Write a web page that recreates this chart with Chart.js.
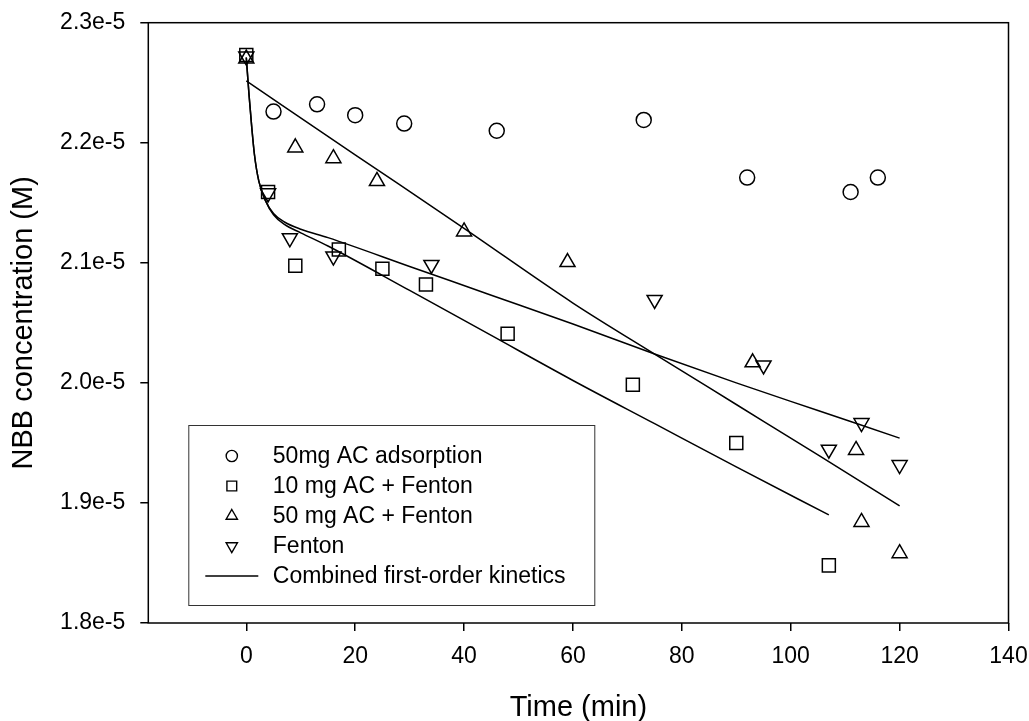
<!DOCTYPE html>
<html>
<head>
<meta charset="utf-8">
<title>NBB concentration vs time</title>
<script src="https://cdn.jsdelivr.net/npm/chart.js@4.4.1/dist/chart.umd.min.js"></script>
<style>
  html, body { margin: 0; padding: 0; background: #fff; }
  #wrap { width: 1029px; height: 721px; }
</style>
</head>
<body>
<div id="wrap"><canvas id="nbbChart" width="1029" height="721"></canvas></div>
<script>
// concentrations below are in units of 1e-5 M
const xTicks = [0, 20, 40, 60, 80, 100, 120, 140];
const yTicks = [1.8, 1.9, 2.0, 2.1, 2.2, 2.3];
const yTickLabels = ['1.8e-5', '1.9e-5', '2.0e-5', '2.1e-5', '2.2e-5', '2.3e-5'];

// 50mg AC adsorption
const adsTime = [5, 13, 20, 29, 46, 73, 92, 111, 116];
const adsConc = [2.226, 2.232, 2.223, 2.216, 2.210, 2.219, 2.171, 2.159, 2.171];

// 10 mg AC + Fenton
const ac10Time = [0, 4, 9, 17, 25, 33, 48, 71, 90, 107];
const ac10Conc = [2.273, 2.159, 2.0975, 2.111, 2.095, 2.082, 2.041, 1.9985, 1.950, 1.848];

// 50 mg AC + Fenton
const ac50Time = [0, 9, 16, 24, 40, 59, 93, 112, 113, 120];
const ac50Conc = [2.270, 2.196, 2.187, 2.168, 2.126, 2.1005, 2.017, 1.944, 1.884, 1.858];

// Fenton
const fenTime = [0, 4, 8, 16, 34, 75, 95, 107, 113, 120];
const fenConc = [2.272, 2.158, 2.1206, 2.1054, 2.0984, 2.0692, 2.0147, 1.9445, 1.9667, 1.9317];

// combined first-order kinetics curves
const ac10FitTime = [0, 0.5, 1, 1.5, 2.3, 3.5, 5, 7, 10, 15, 30, 45, 60, 75, 90, 107];
const ac10FitConc = [2.271, 2.240, 2.213, 2.190, 2.168, 2.152, 2.140, 2.132, 2.125, 2.114, 2.077, 2.0395, 2.002, 1.966, 1.930, 1.890];

const ac50FitTime = [0, 20, 40, 60, 75, 90, 105, 120];
const ac50FitConc = [2.2515, 2.190, 2.1287, 2.0665, 2.024, 1.982, 1.940, 1.8975];

const fenFitTime = [0, 0.5, 1, 1.5, 2.3, 3.5, 5, 7, 10, 15, 30, 45, 60, 75, 90, 105, 120];
const fenFitConc = [2.271, 2.240, 2.213, 2.190, 2.168, 2.152, 2.141, 2.134, 2.128, 2.121, 2.097, 2.073, 2.049, 2.024, 2.000, 1.977, 1.954];

const fitLabel = 'Combined first-order kinetics';
const FONT = '"Liberation Sans", Arial, Helvetica, sans-serif';

function pts(xs, ys) {
  return xs.map((x, i) => ({ x: x, y: ys[i] }));
}

function markerSet(label, xs, ys, style, rotation, radius) {
  return {
    label: label,
    data: pts(xs, ys),
    showLine: false,
    pointStyle: style,
    rotation: rotation,
    pointRadius: radius,
    pointBorderWidth: 1.5,
    pointBorderColor: '#000',
    pointBackgroundColor: 'rgba(0,0,0,0)',
    legendRadius: radius * 0.75
  };
}

function fitSet(xs, ys) {
  return {
    label: fitLabel,
    data: pts(xs, ys),
    showLine: true,
    pointRadius: 0,
    borderColor: '#000',
    borderWidth: 1.5,
    cubicInterpolationMode: 'monotone',
    isFit: true
  };
}

const datasets = [
  markerSet('50mg AC adsorption', adsTime, adsConc, 'circle', 0, 7.5),
  markerSet('10 mg AC + Fenton', ac10Time, ac10Conc, 'rect', 0, 9.2),
  markerSet('50 mg AC + Fenton', ac50Time, ac50Conc, 'triangle', 0, 8.7),
  markerSet('Fenton', fenTime, fenConc, 'triangle', 180, 8.7),
  fitSet(ac10FitTime, ac10FitConc),
  fitSet(ac50FitTime, ac50FitConc),
  fitSet(fenFitTime, fenFitConc)
];

// keep the plot box where the reference has it (no label overflow padding)
function noPad(s) {
  s.paddingLeft = 0;
  s.paddingRight = 0;
  s.paddingTop = 0;
  s.paddingBottom = 0;
}

// frame round the plot + boxed legend inside the lower left corner
const frameAndLegend = {
  id: 'frameAndLegend',
  afterDatasetsDraw(chart) {
    const { ctx, chartArea: a } = chart;
    ctx.save();
    ctx.strokeStyle = '#000';
    ctx.lineWidth = 1.5;
    ctx.strokeRect(a.left, a.top, a.right - a.left, a.bottom - a.top);

    const bx = a.left + 40, by = a.bottom - 198, bw = 406, bh = 180;
    ctx.fillStyle = '#fff';
    ctx.fillRect(bx, by, bw, bh);
    ctx.strokeStyle = '#333';
    ctx.lineWidth = 1;
    ctx.strokeRect(bx + 0.5, by + 0.5, bw, bh);

    const entries = chart.data.datasets.filter(d => !d.isFit);
    entries.push(chart.data.datasets.find(d => d.isFit));

    ctx.font = '23px ' + FONT;
    ctx.textBaseline = 'middle';
    ctx.textAlign = 'left';
    entries.forEach((d, i) => {
      const y = by + 31 + i * 30;
      ctx.strokeStyle = '#000';
      ctx.fillStyle = 'rgba(0,0,0,0)';
      if (d.isFit) {
        ctx.lineWidth = 1.5;
        ctx.beginPath();
        ctx.moveTo(bx + 17, y);
        ctx.lineTo(bx + 70, y);
        ctx.stroke();
      } else {
        ctx.lineWidth = 1.4;
        Chart.helpers.drawPoint(ctx, {
          pointStyle: d.pointStyle,
          rotation: d.rotation,
          radius: d.legendRadius,
          borderWidth: 1.4
        }, bx + 43.5, y);
      }
      ctx.fillStyle = '#000';
      ctx.fillText(d.label, bx + 84.5, y + 1);
    });
    ctx.restore();
  }
};

new Chart(document.getElementById('nbbChart'), {
  type: 'scatter',
  data: { datasets: datasets },
  options: {
    responsive: false,
    animation: false,
    events: [],
    layout: { padding: { top: 22.7, right: 20.5, left: 0, bottom: 0 } },
    plugins: {
      legend: { display: false },
      tooltip: { enabled: false }
    },
    scales: {
      x: {
        type: 'linear',
        min: -18,
        max: 140,
        afterBuildTicks: s => { s.ticks = xTicks.map(v => ({ value: v })); },
        afterFit: s => { s.height = 98; noPad(s); },
        border: { display: false },
        grid: { drawOnChartArea: false, drawTicks: true, tickLength: 8, color: '#000', lineWidth: 1.5 },
        ticks: { color: '#000', padding: 12, maxRotation: 0, autoSkip: false, font: { family: FONT, size: 23 } },
        title: {
          display: true,
          text: 'Time (min)',
          color: '#000',
          font: { family: FONT, size: 29, lineHeight: 0.9 },
          padding: { top: 0, bottom: 0 }
        }
      },
      y: {
        type: 'linear',
        min: 1.8,
        max: 2.3,
        afterBuildTicks: s => { s.ticks = yTicks.map(v => ({ value: v })); },
        afterFit: s => { s.width = 148.3; noPad(s); },
        border: { display: false },
        grid: { drawOnChartArea: false, drawTicks: true, tickLength: 8, color: '#000', lineWidth: 1.5 },
        ticks: {
          color: '#000',
          padding: 15,
          autoSkip: false,
          font: { family: FONT, size: 23 },
          callback: (v, i) => yTickLabels[i]
        },
        title: {
          display: true,
          text: 'NBB concentration (M)',
          color: '#000',
          font: { family: FONT, size: 29, lineHeight: 1 },
          padding: { top: 9.5, bottom: 0 }
        }
      }
    }
  },
  plugins: [frameAndLegend]
});
</script>
</body>
</html>
